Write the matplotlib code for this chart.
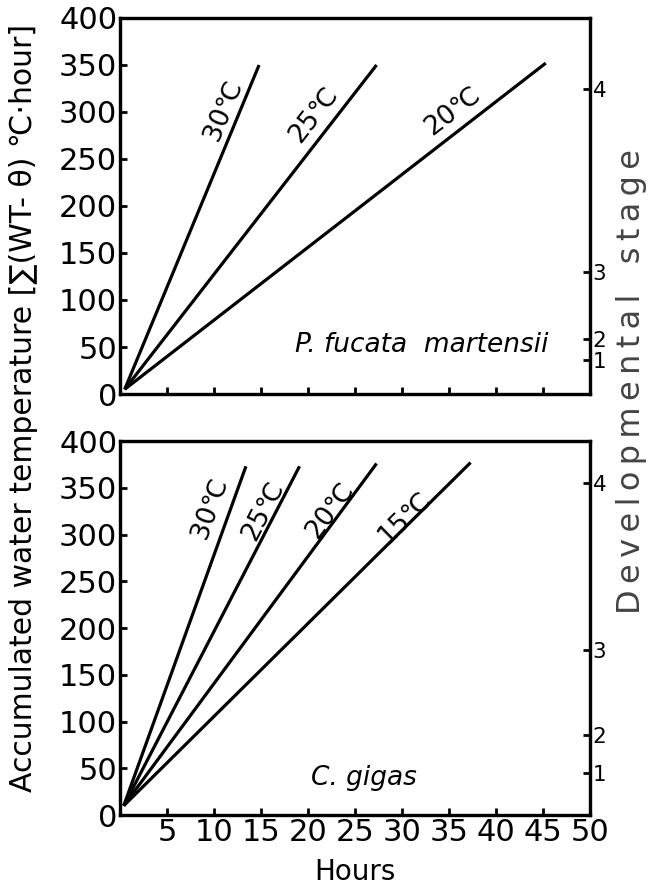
import numpy as np
import matplotlib
matplotlib.use('Agg')
import matplotlib.pyplot as plt

plt.rcParams['font.family'] = ['DejaVu Sans', 'Liberation Sans']

# P. fucata martensii (upper panel)
temps_top = ['30℃', '25℃', '20℃']
x_start_top = [0.5, 0.5, 0.5]
y_start_top = [5, 5, 5]
x_end_top = [14.8, 27.3, 45.3]
y_end_top = [350, 350, 352]
label_x_top = [11.0, 20.6, 35.4]
label_y_top = [302, 297, 301]
stage_pos_top = [36, 58, 130, 324]

# C. gigas (lower panel)
temps_bot = ['30℃', '25℃', '20℃', '15℃']
x_start_bot = [0.4, 0.4, 0.4, 0.4]
y_start_bot = [10, 10, 10, 10]
x_end_bot = [13.4, 19.1, 27.3, 37.3]
y_end_bot = [373, 373, 376, 377]
label_x_bot = [9.6, 15.3, 22.4, 30.3]
label_y_bot = [328, 325, 326, 318]
stage_pos_bot = [45, 86, 176, 355]

stage_labels = ['1', '2', '3', '4']
x_ticks = [5, 10, 15, 20, 25, 30, 35, 40, 45, 50]
y_ticks = [0, 50, 100, 150, 200, 250, 300, 350, 400]

fig = plt.figure(figsize=(6.5, 8.86), dpi=100)
ax1 = fig.add_axes([0.1846, 0.5553, 0.723, 0.4244])
ax2 = fig.add_axes([0.1846, 0.0801, 0.723, 0.4221])


def draw_panel(ax, names, xs, ys, xe, ye, lx, ly, stages, species, sp_x, sp_y, sp_ha, xlabels):
    ax.set_xlim(0, 50)
    ax.set_ylim(0, 400)
    for n in range(len(names)):
        ax.plot([xs[n], xe[n]], [ys[n], ye[n]], color='black', lw=2.3, solid_capstyle='butt')
        p0 = ax.transData.transform((xs[n], ys[n]))
        p1 = ax.transData.transform((xe[n], ye[n]))
        ang = np.degrees(np.arctan2(p1[1] - p0[1], p1[0] - p0[0]))
        ax.text(lx[n], ly[n], names[n], rotation=ang, rotation_mode='anchor',
                ha='center', va='center', fontsize=19)
    ax.set_yticks(y_ticks)
    ax.set_yticklabels([str(v) for v in y_ticks], fontsize=22)
    ax.set_xticks(x_ticks)
    if xlabels:
        ax.set_xticklabels([str(v) for v in x_ticks], fontsize=22)
    else:
        ax.set_xticklabels([])
    ax.tick_params(direction='in', length=5, width=2, pad=2)
    for s in ax.spines.values():
        s.set_linewidth(2.3)
    ax.text(sp_x, sp_y, species, style='italic', fontsize=19, ha=sp_ha, va='center')

    axr = ax.twinx()
    axr.set_ylim(0, 400)
    axr.set_yticks(stages)
    axr.set_yticklabels(stage_labels, fontsize=15.5)
    axr.tick_params(direction='in', length=5, width=2, pad=2)
    for s in axr.spines.values():
        s.set_linewidth(2.3)


draw_panel(ax1, temps_top, x_start_top, y_start_top, x_end_top, y_end_top,
           label_x_top, label_y_top, stage_pos_top, 'P. fucata  martensii', 45.6, 52, 'right', False)
draw_panel(ax2, temps_bot, x_start_bot, y_start_bot, x_end_bot, y_end_bot,
           label_x_bot, label_y_bot, stage_pos_bot, 'C. gigas', 26, 40, 'center', True)

ax2.set_xlabel('Hours', fontsize=20, labelpad=8)

fig.text(0.036, 0.54, 'Accumulated water temperature [∑(WT- θ) ℃·hour]',
         rotation=90, ha='center', va='center', fontsize=21.5)
dev_label = '\u2009'.join('Developmental') + '   ' + '\u2009'.join('stage')
fig.text(0.972, 0.569, dev_label, rotation=90, ha='center', va='center',
         fontsize=23, color='#444444')

fig.savefig('out.png', dpi=100)
